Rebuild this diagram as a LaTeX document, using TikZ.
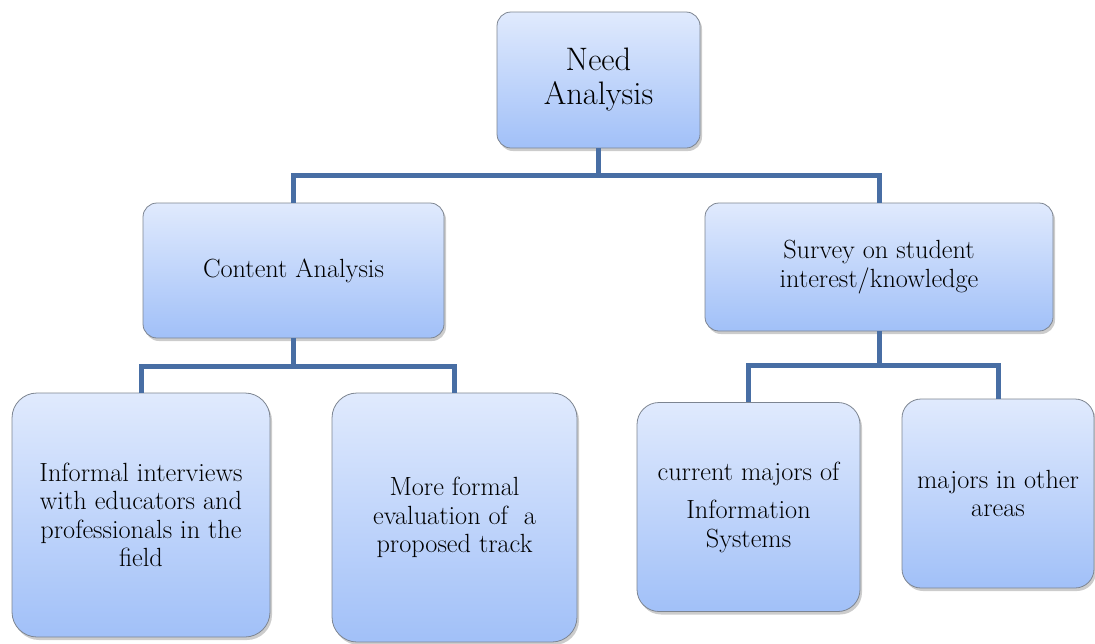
\documentclass[tikz,border=0pt]{standalone}
\usetikzlibrary{shadows}
\definecolor{boxtop}{RGB}{224,234,253}
\definecolor{boxbottom}{RGB}{161,192,248}
\definecolor{boxedge}{RGB}{125,133,145}
\definecolor{linkblue}{RGB}{72,110,164}

\begin{document}
\begin{tikzpicture}[x=1pt,y=-1pt,every node/.style={align=center,font=\fontsize{26.3}{28.5}\selectfont},
    box/.style={draw=boxedge,line width=0.8pt,top color=boxtop,bottom color=boxbottom,rounded corners=#1,
      drop shadow={shadow xshift=2pt,shadow yshift=-3pt,opacity=0.4}},
    box/.default=14pt,
    link/.style={draw=linkblue,line width=5pt}]
      \useasboundingbox (0,0) rectangle (1095,643);
      % top level
      \node[box,minimum width=203pt,minimum height=136pt,font=\fontsize{32.5}{34}\selectfont] (need) at (598.5,80) {Need\\Analysis};
      % second level
      \node[box,minimum width=301pt,minimum height=135pt] (content) at (293.5,270.5) {Content Analysis};
      \node[box,minimum width=348pt,minimum height=128pt] (survey) at (879,267) {Survey on student\\interest/knowledge};
      % third level
      \node[box=25pt,minimum width=258pt,minimum height=244pt] (informal) at (141,515) {Informal interviews\\with educators and\\professionals in the\\field};
      \node[box=25pt,minimum width=245pt,minimum height=249pt] (formal) at (454.5,517.5) {More formal\\evaluation of\ \ a\\proposed track};
      \node[box=22pt,minimum width=223pt,minimum height=209pt] (current) at (748.5,507) {current majors of\\[10pt]Information\\Systems};
      \node[box=19pt,minimum width=192pt,minimum height=189pt] (other) at (998,493.5) {majors in other\\areas};
      % connectors
      \coordinate (needfork) at (598.5,175);
      \coordinate (contentfork) at (293.5,366);
      \coordinate (surveyfork) at (879,365);
      \draw[link] (need.south) -- (needfork) -| (content.north);
      \draw[link] (needfork) -| (survey.north);
      \draw[link] (content.south) -- (contentfork) -| (informal.north);
      \draw[link] (contentfork) -| (formal.north);
      \draw[link] (survey.south) -- (surveyfork) -| (current.north);
      \draw[link] (surveyfork) -| (other.north);
\end{tikzpicture}
\end{document}
